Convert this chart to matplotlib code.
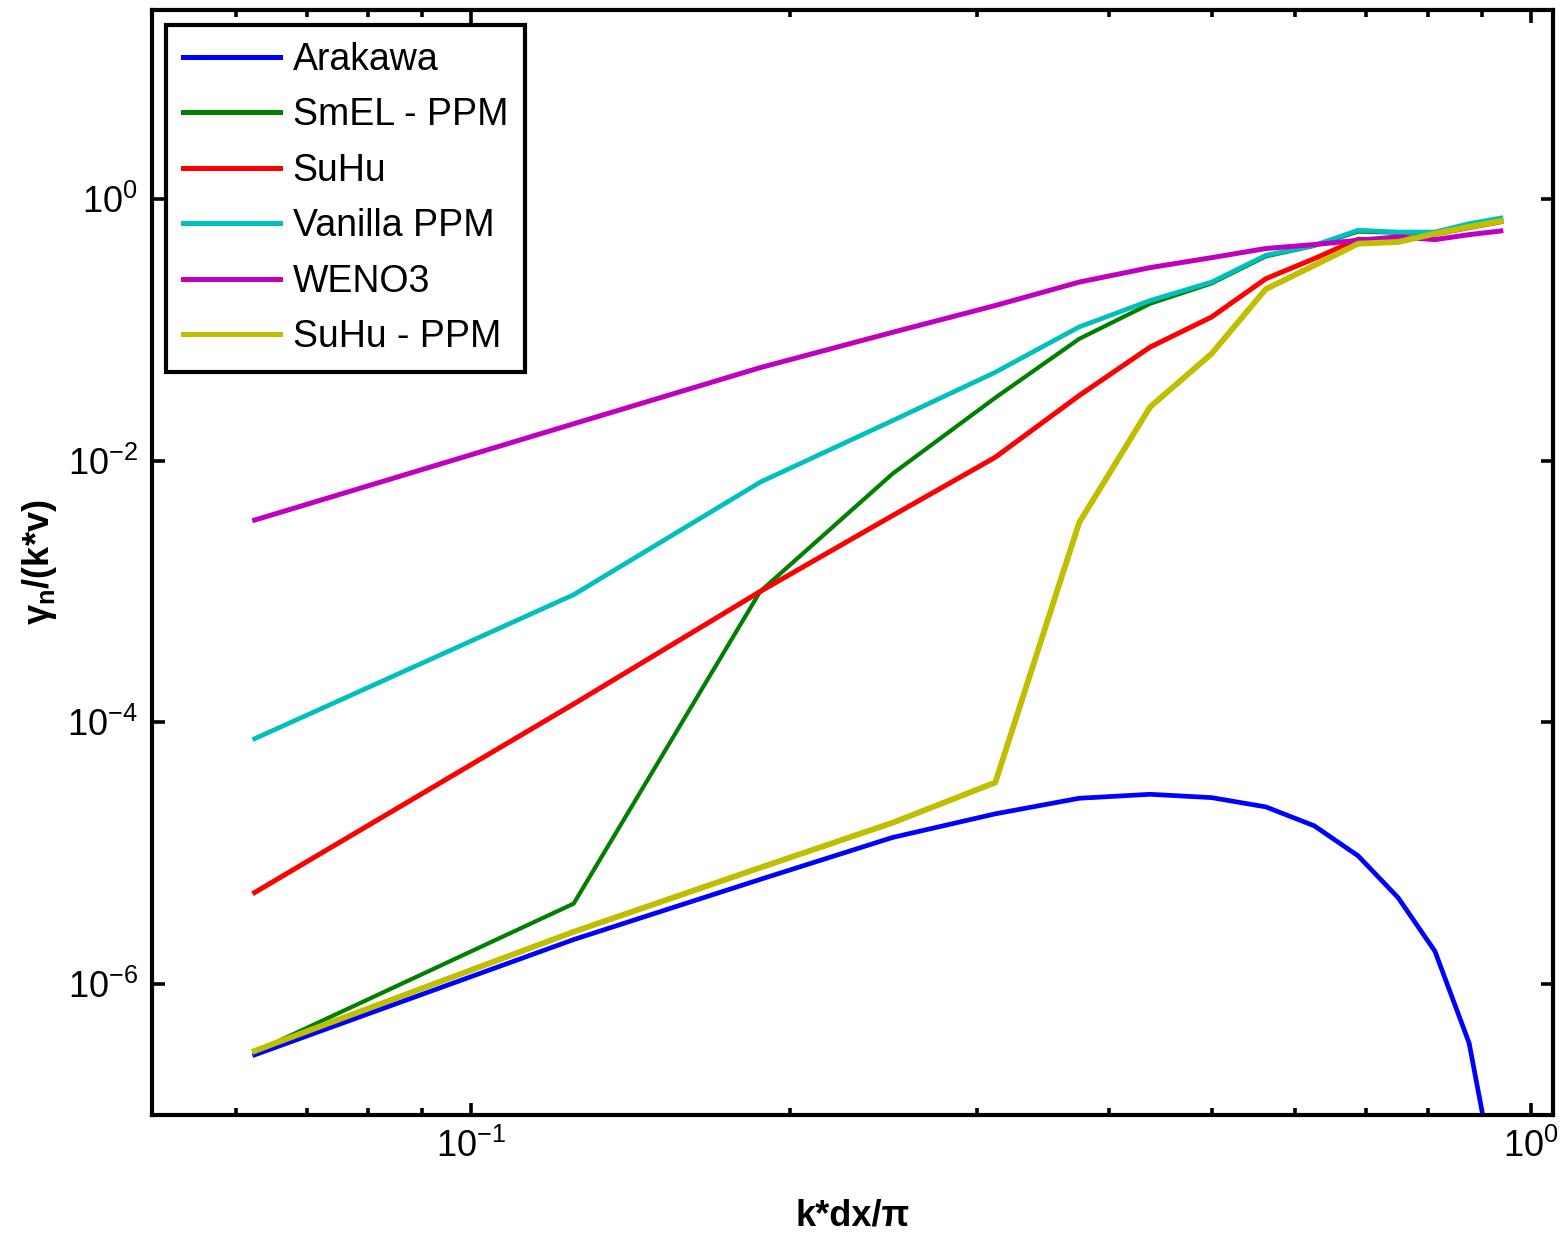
import numpy as np
import matplotlib
matplotlib.use("Agg")
import matplotlib.pyplot as plt
from matplotlib.ticker import LogLocator, NullLocator, NullFormatter, FixedLocator

plt.rcParams['font.family'] = ['Liberation Sans', 'DejaVu Sans']
plt.rcParams['mathtext.fontset'] = 'custom'
plt.rcParams['mathtext.rm'] = 'Liberation Sans'
plt.rcParams['mathtext.it'] = 'Liberation Sans:italic'
plt.rcParams['mathtext.bf'] = 'Liberation Sans:bold'
plt.rcParams['axes.unicode_minus'] = False

# k*dx/pi sample points
kdx = [0.0625, 0.125, 0.1875, 0.25, 0.3125, 0.375, 0.4375, 0.5,
       0.5625, 0.625, 0.6875, 0.75, 0.8125, 0.875, 0.9375]

arakawa = [2.88e-7, 2.19e-6, 6.31e-6, 1.32e-5, 2.00e-5, 2.63e-5, 2.82e-5, 2.66e-5,
           2.26e-5, 1.62e-5, 9.55e-6, 4.57e-6, 1.78e-6, 3.55e-7, 1.86e-8]
smel_ppm = [3.02e-7, 4.12e-6, 1.0e-3, 7.94e-3, 3.02e-2, 8.51e-2, 0.158, 0.226,
            0.363, 0.437, 0.562, 0.550, 0.550, 0.631, 0.700]
suhu = [5.01e-6, 1.38e-4, 1.0e-3, 3.80e-3, 1.06e-2, 3.14e-2, 7.36e-2, 0.125,
        0.245, 0.349, 0.490, 0.479, 0.537, 0.603, 0.668]
vanilla_ppm = [7.50e-5, 9.44e-4, 6.84e-3, 2.02e-2, 4.73e-2, 0.105, 0.167, 0.231,
               0.370, 0.441, 0.575, 0.557, 0.557, 0.646, 0.713]
weno3 = [3.51e-3, 1.91e-2, 5.13e-2, 9.55e-2, 0.153, 0.231, 0.298, 0.355,
         0.417, 0.447, 0.482, 0.511, 0.488, 0.532, 0.568]
suhu_ppm = [3.09e-7, 2.51e-6, 7.76e-6, 1.71e-5, 3.47e-5, 3.36e-3, 2.57e-2, 6.55e-2,
            0.204, 0.310, 0.454, 0.468, 0.542, 0.610, 0.676]

fig = plt.figure(figsize=(15.6, 12.33), dpi=100)
ax = fig.add_axes([152/1560, 1 - 1115/1233, (1553-152)/1560, (1115-10)/1233])

ax.loglog(kdx, arakawa, color=(0, 0, 1), lw=3.4, label='Arakawa')
ax.loglog(kdx, smel_ppm, color=(0, 0.5, 0), lw=3.0, label='SmEL - PPM')
ax.loglog(kdx, suhu, color=(1, 0, 0), lw=3.6, label='SuHu')
ax.loglog(kdx, vanilla_ppm, color=(0, 0.75, 0.75), lw=3.4, label='Vanilla PPM')
ax.loglog(kdx, weno3, color=(0.75, 0, 0.75), lw=3.6, label='WENO3')
ax.loglog(kdx, suhu_ppm, color=(0.75, 0.75, 0), lw=4.2, label='SuHu - PPM')

ax.set_xlim(0.05, 1.05)
ax.set_ylim(1e-7, 27.7)

ax.yaxis.set_major_locator(FixedLocator([1e-6, 1e-4, 1e-2, 1]))
ax.yaxis.set_minor_locator(NullLocator())
ax.xaxis.set_major_locator(FixedLocator([0.1, 1]))
ax.xaxis.set_minor_locator(LogLocator(base=10, subs=np.arange(2, 10)))
ax.xaxis.set_minor_formatter(NullFormatter())

ax.tick_params(which='both', direction='in', top=True, right=True, labelsize=26, width=2.6)
ax.tick_params(which='major', length=9, pad=10)
ax.tick_params(which='minor', length=5)
for s in ax.spines.values():
    s.set_linewidth(3.0)

ax.set_xlabel('k*dx/π', fontsize=26, fontweight='bold', labelpad=24)
ax.set_ylabel('γ$_\\mathbf{n}$/(k*v)', fontsize=26, fontweight='bold', labelpad=6)

leg = ax.legend(loc='upper left', bbox_to_anchor=(166/1560, 1 - 25/1233),
                bbox_transform=fig.transFigure, fontsize=27, frameon=True,
                fancybox=False, edgecolor='black', framealpha=1,
                handlelength=2.6, handletextpad=0.33, labelspacing=0.52,
                borderpad=0.45, borderaxespad=0)
leg.get_frame().set_linewidth(3.0)
for line in leg.get_lines():
    line.set_linewidth(3.6)

fig.savefig('out.png', dpi=100, facecolor='white')
